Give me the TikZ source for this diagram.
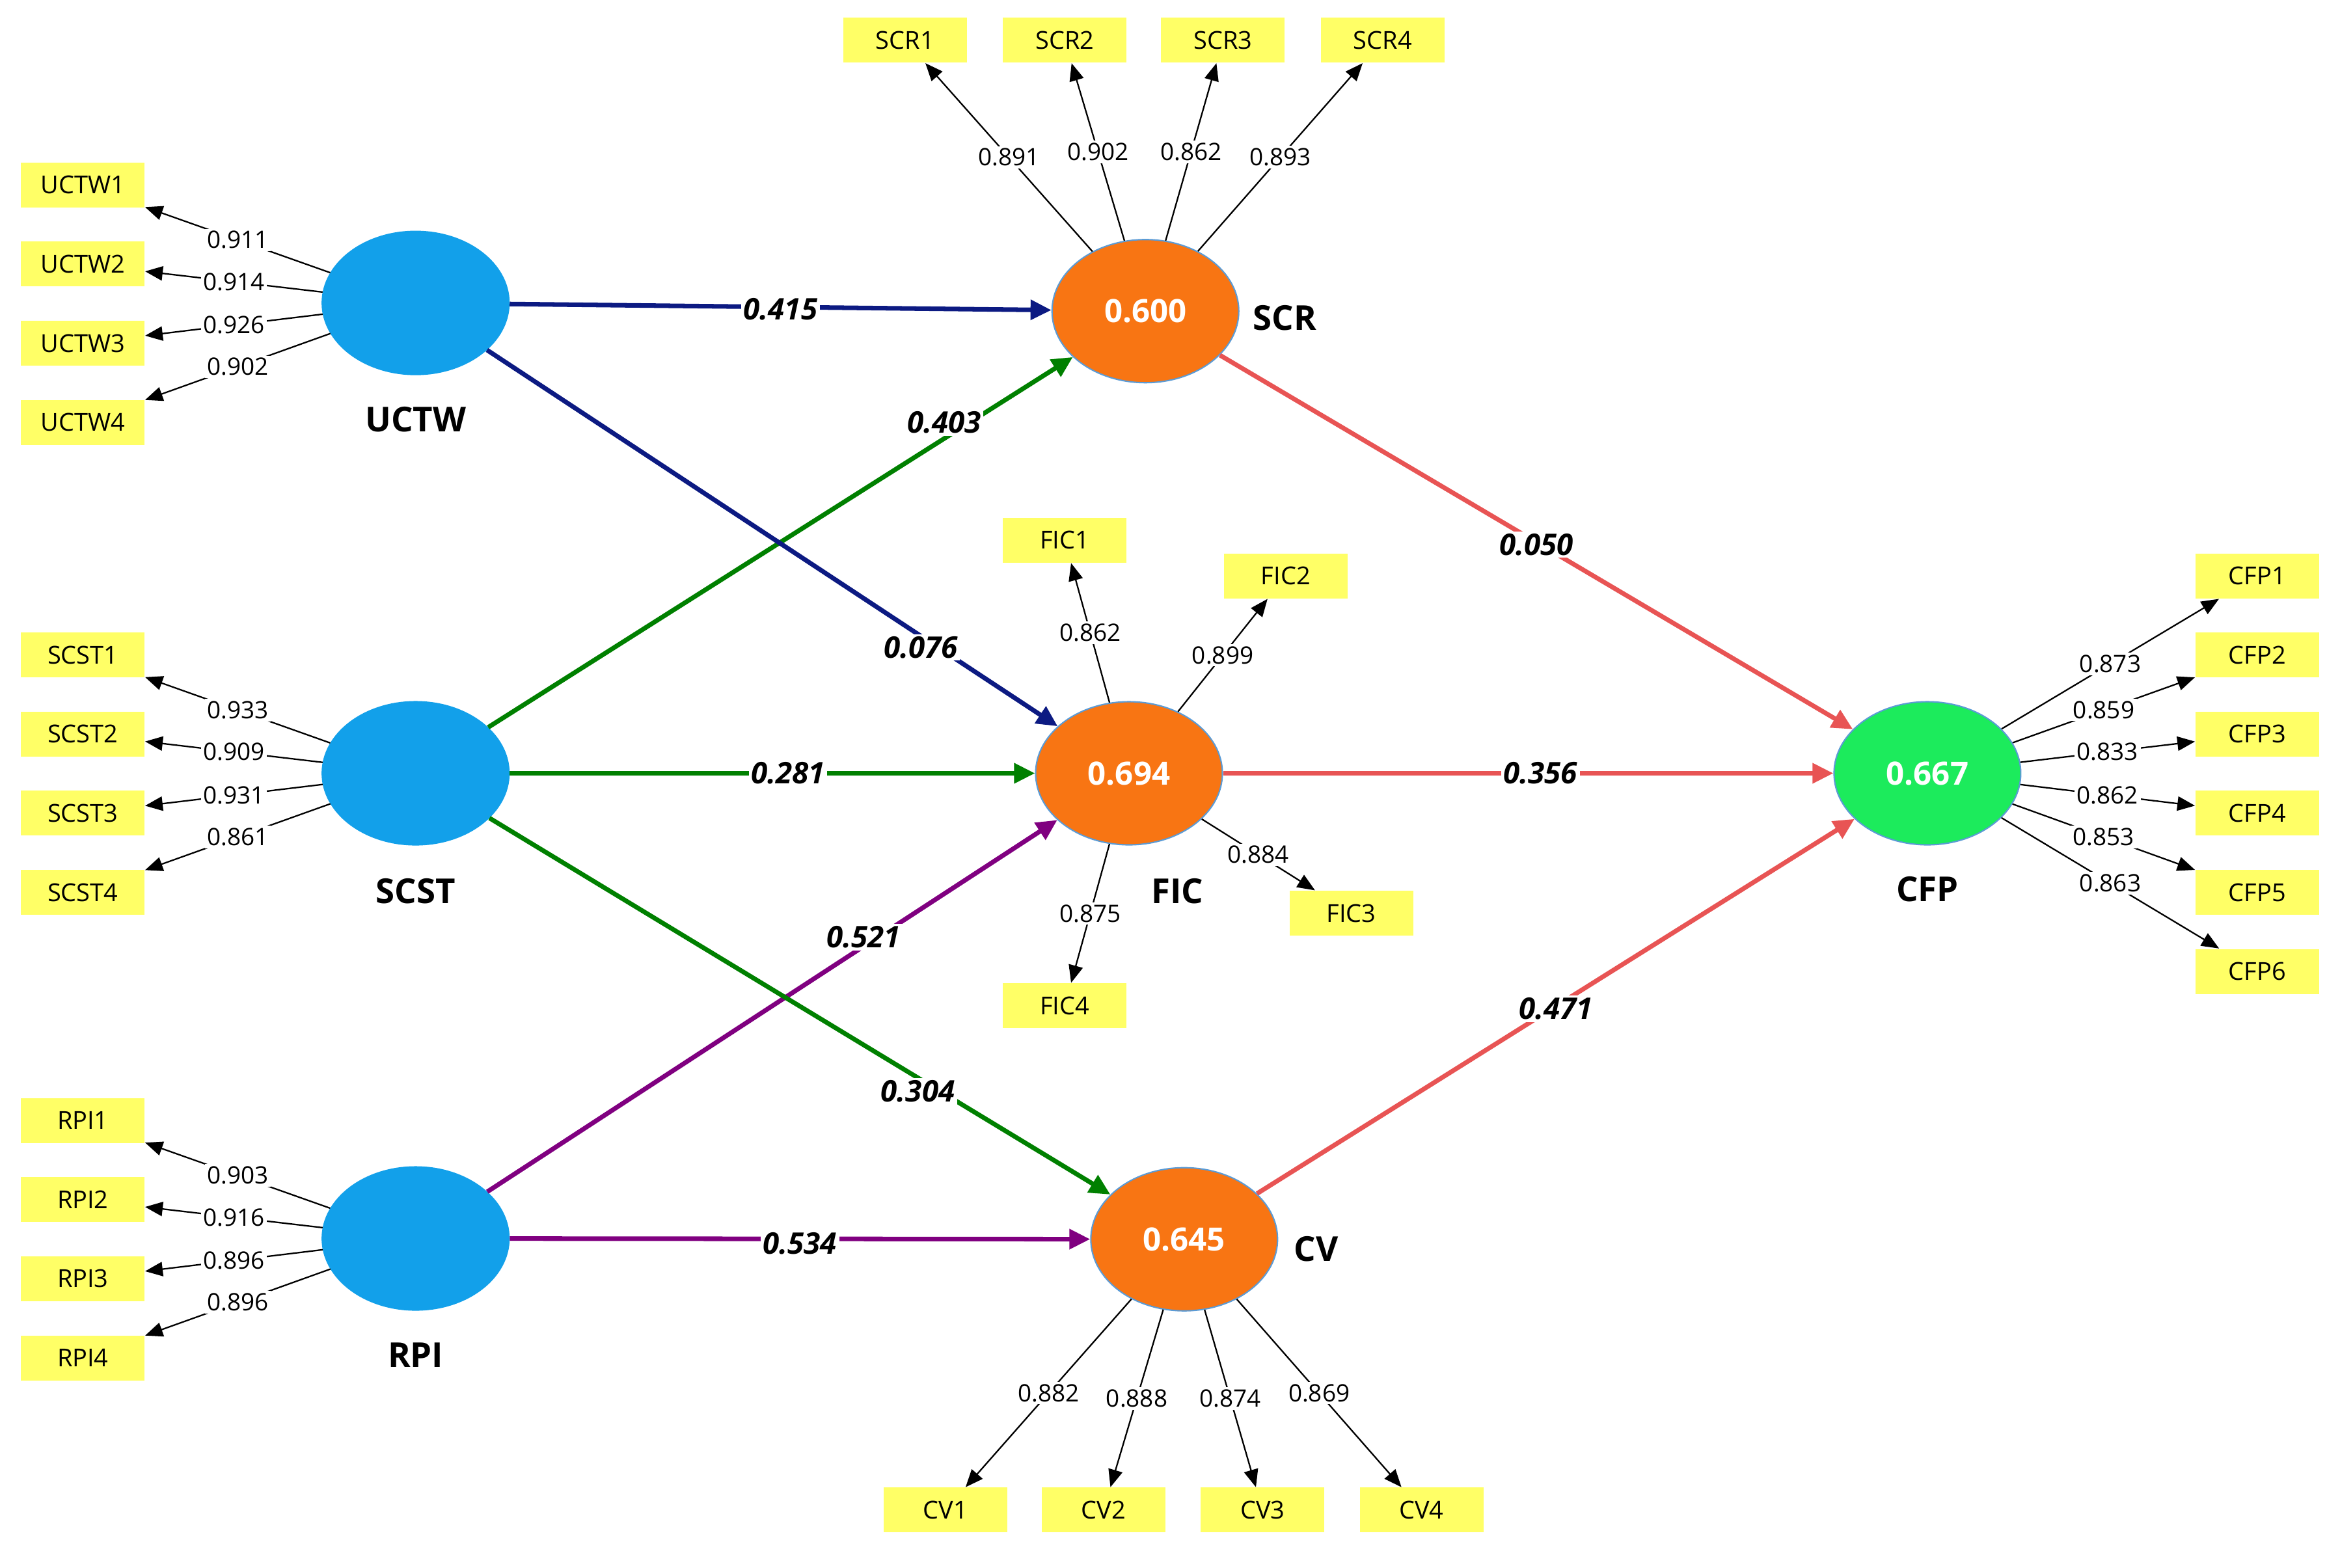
\documentclass[tikz,border=0pt]{standalone}
\usepackage{fontspec}
\setmainfont{Open Sans}
\usepackage{xcolor}
\usepackage{tikz}
\usetikzlibrary{shapes.geometric,arrows.meta}
\definecolor{lvblue}{RGB}{18,160,234}
\definecolor{lvorange}{RGB}{248,117,19}
\definecolor{lvgreen}{RGB}{28,235,92}
\definecolor{lvedge}{RGB}{91,155,213}
\definecolor{indyellow}{RGB}{255,255,102}
\definecolor{pnavy}{RGB}{12,26,130}
\definecolor{pgreen}{RGB}{0,128,0}
\definecolor{ppurple}{RGB}{128,0,128}
\definecolor{pred}{RGB}{232,84,84}
\tikzset{
  lv/.style={ellipse, draw=lvedge, line width=0.6pt, minimum width=2.87cm, minimum height=2.2cm, inner sep=0pt, text=white, font=\fontsize{14}{16}\selectfont\bfseries},
  lvexo/.style={lv, fill=lvblue, draw=lvblue},
  lvendo/.style={lv, fill=lvorange},
  lvfinal/.style={lv, fill=lvgreen},
  lvname/.style={font=\fontsize{15}{18}\selectfont\bfseries},
  ind/.style={fill=indyellow, minimum width=1.9cm, minimum height=0.69cm, inner sep=0pt, font=\fontsize{10.8}{12}\selectfont},
  load/.style={line width=0.65pt, draw=black, -{Triangle[length=0.27cm,width=0.22cm]}},
  lval/.style={fill=white, inner sep=1pt, font=\fontsize{10.5}{12}\selectfont},
  beta/.style={line width=2pt, draw=#1, -{Triangle[length=0.32cm,width=0.3cm]}},
  coef/.style={fill=white, inner sep=1pt, font=\fontsize{13}{15}\selectfont\bfseries\itshape},
}
\begin{document}
\begin{tikzpicture}
\fill[white] (0,0) rectangle (35.96,-24.09);
\useasboundingbox (0,0) rectangle (35.96,-24.09);
\node[lvexo] (UCTW) at (6.387,-4.656) {};
\node[lvexo] (SCST) at (6.387,-11.885) {};
\node[lvexo] (RPI) at (6.387,-19.035) {};
\node[lvendo] (SCR) at (17.602,-4.782) {0.600};
\node[lvendo] (FIC) at (17.350,-11.885) {0.694};
\node[lvendo] (CV) at (18.198,-19.047) {0.645};
\node[lvfinal] (CFP) at (29.619,-11.885) {0.667};
\node[lvname] (UCTWname) at (6.387,-6.444) {UCTW};
\node[lvname] (SCSTname) at (6.387,-13.692) {SCST};
\node[lvname] (RPIname) at (6.387,-20.824) {RPI};
\node[lvname] (SCRname) at (19.746,-4.885) {SCR};
\node[lvname] (FICname) at (18.095,-13.692) {FIC};
\node[lvname] (CVname) at (20.228,-19.196) {CV};
\node[lvname] (CFPname) at (29.619,-13.669) {CFP};
\node[ind] (UCTW1) at (1.273,-2.844) {UCTW1};
\node[ind] (UCTW2) at (1.273,-4.059) {UCTW2};
\node[ind] (UCTW3) at (1.273,-5.275) {UCTW3};
\node[ind] (UCTW4) at (1.273,-6.490) {UCTW4};
\node[ind] (SCST1) at (1.273,-10.068) {SCST1};
\node[ind] (SCST2) at (1.273,-11.284) {SCST2};
\node[ind] (SCST3) at (1.273,-12.499) {SCST3};
\node[ind] (SCST4) at (1.273,-13.715) {SCST4};
\node[ind] (RPI1) at (1.273,-17.223) {RPI1};
\node[ind] (RPI2) at (1.273,-18.439) {RPI2};
\node[ind] (RPI3) at (1.273,-19.654) {RPI3};
\node[ind] (RPI4) at (1.273,-20.870) {RPI4};
\node[ind] (SCR1) at (13.909,-0.619) {SCR1};
\node[ind] (SCR2) at (16.363,-0.619) {SCR2};
\node[ind] (SCR3) at (18.794,-0.619) {SCR3};
\node[ind] (SCR4) at (21.248,-0.619) {SCR4};
\node[ind] (FIC1) at (16.363,-8.302) {FIC1};
\node[ind] (FIC2) at (19.758,-8.853) {FIC2};
\node[ind] (FIC3) at (20.767,-14.036) {FIC3};
\node[ind] (FIC4) at (16.363,-15.458) {FIC4};
\node[ind] (CV1) at (14.529,-23.209) {CV1};
\node[ind] (CV2) at (16.960,-23.209) {CV2};
\node[ind] (CV3) at (19.402,-23.209) {CV3};
\node[ind] (CV4) at (21.845,-23.209) {CV4};
\node[ind] (CFP1) at (34.688,-8.853) {CFP1};
\node[ind] (CFP2) at (34.688,-10.068) {CFP2};
\node[ind] (CFP3) at (34.688,-11.284) {CFP3};
\node[ind] (CFP4) at (34.688,-12.499) {CFP4};
\node[ind] (CFP5) at (34.688,-13.715) {CFP5};
\node[ind] (CFP6) at (34.688,-14.930) {CFP6};
\draw[beta=pnavy] (UCTW) -- node[coef,yshift=-1pt]{0.415} (SCR);
\draw[beta=pgreen] (SCST) -- node[coef,pos=0.78,yshift=7pt]{0.403} (SCR);
\draw[beta=pnavy] (UCTW) -- node[coef,pos=0.76,yshift=-5pt]{0.076} (FIC);
\draw[beta=pgreen] (SCST) -- node[coef,pos=0.53]{0.281} (FIC);
\draw[beta=ppurple] (RPI) -- node[coef,pos=0.66,yshift=4pt]{0.521} (FIC);
\draw[beta=pgreen] (SCST) -- node[coef,pos=0.69,yshift=-6pt]{0.304} (CV);
\draw[beta=ppurple] (RPI) -- node[coef,yshift=-2pt]{0.534} (CV);
\draw[beta=pred] (SCR) -- node[coef,yshift=-1pt]{0.050} (CFP);
\draw[beta=pred] (FIC) -- node[coef,pos=0.52]{0.356} (CFP);
\draw[beta=pred] (CV) -- node[coef,yshift=-1pt]{0.471} (CFP);
\draw[load] (UCTW) -- node[lval]{0.911} (UCTW1);
\draw[load] (UCTW) -- node[lval]{0.914} (UCTW2);
\draw[load] (UCTW) -- node[lval]{0.926} (UCTW3);
\draw[load] (UCTW) -- node[lval]{0.902} (UCTW4);
\draw[load] (SCST) -- node[lval]{0.933} (SCST1);
\draw[load] (SCST) -- node[lval]{0.909} (SCST2);
\draw[load] (SCST) -- node[lval]{0.931} (SCST3);
\draw[load] (SCST) -- node[lval]{0.861} (SCST4);
\draw[load] (RPI) -- node[lval]{0.903} (RPI1);
\draw[load] (RPI) -- node[lval]{0.916} (RPI2);
\draw[load] (RPI) -- node[lval]{0.896} (RPI3);
\draw[load] (RPI) -- node[lval]{0.896} (RPI4);
\draw[load] (SCR) -- node[lval]{0.891} (SCR1);
\draw[load] (SCR) -- node[lval]{0.902} (SCR2);
\draw[load] (SCR) -- node[lval]{0.862} (SCR3);
\draw[load] (SCR) -- node[lval]{0.893} (SCR4);
\draw[load] (FIC) -- node[lval]{0.862} (FIC1);
\draw[load] (FIC) -- node[lval]{0.899} (FIC2);
\draw[load] (FIC) -- node[lval]{0.884} (FIC3);
\draw[load] (FIC) -- node[lval]{0.875} (FIC4);
\draw[load] (CV) -- node[lval]{0.882} (CV1);
\draw[load] (CV) -- node[lval]{0.888} (CV2);
\draw[load] (CV) -- node[lval]{0.874} (CV3);
\draw[load] (CV) -- node[lval]{0.869} (CV4);
\draw[load] (CFP) -- node[lval]{0.873} (CFP1);
\draw[load] (CFP) -- node[lval]{0.859} (CFP2);
\draw[load] (CFP) -- node[lval]{0.833} (CFP3);
\draw[load] (CFP) -- node[lval]{0.862} (CFP4);
\draw[load] (CFP) -- node[lval]{0.853} (CFP5);
\draw[load] (CFP) -- node[lval]{0.863} (CFP6);
\end{tikzpicture}
\end{document}
